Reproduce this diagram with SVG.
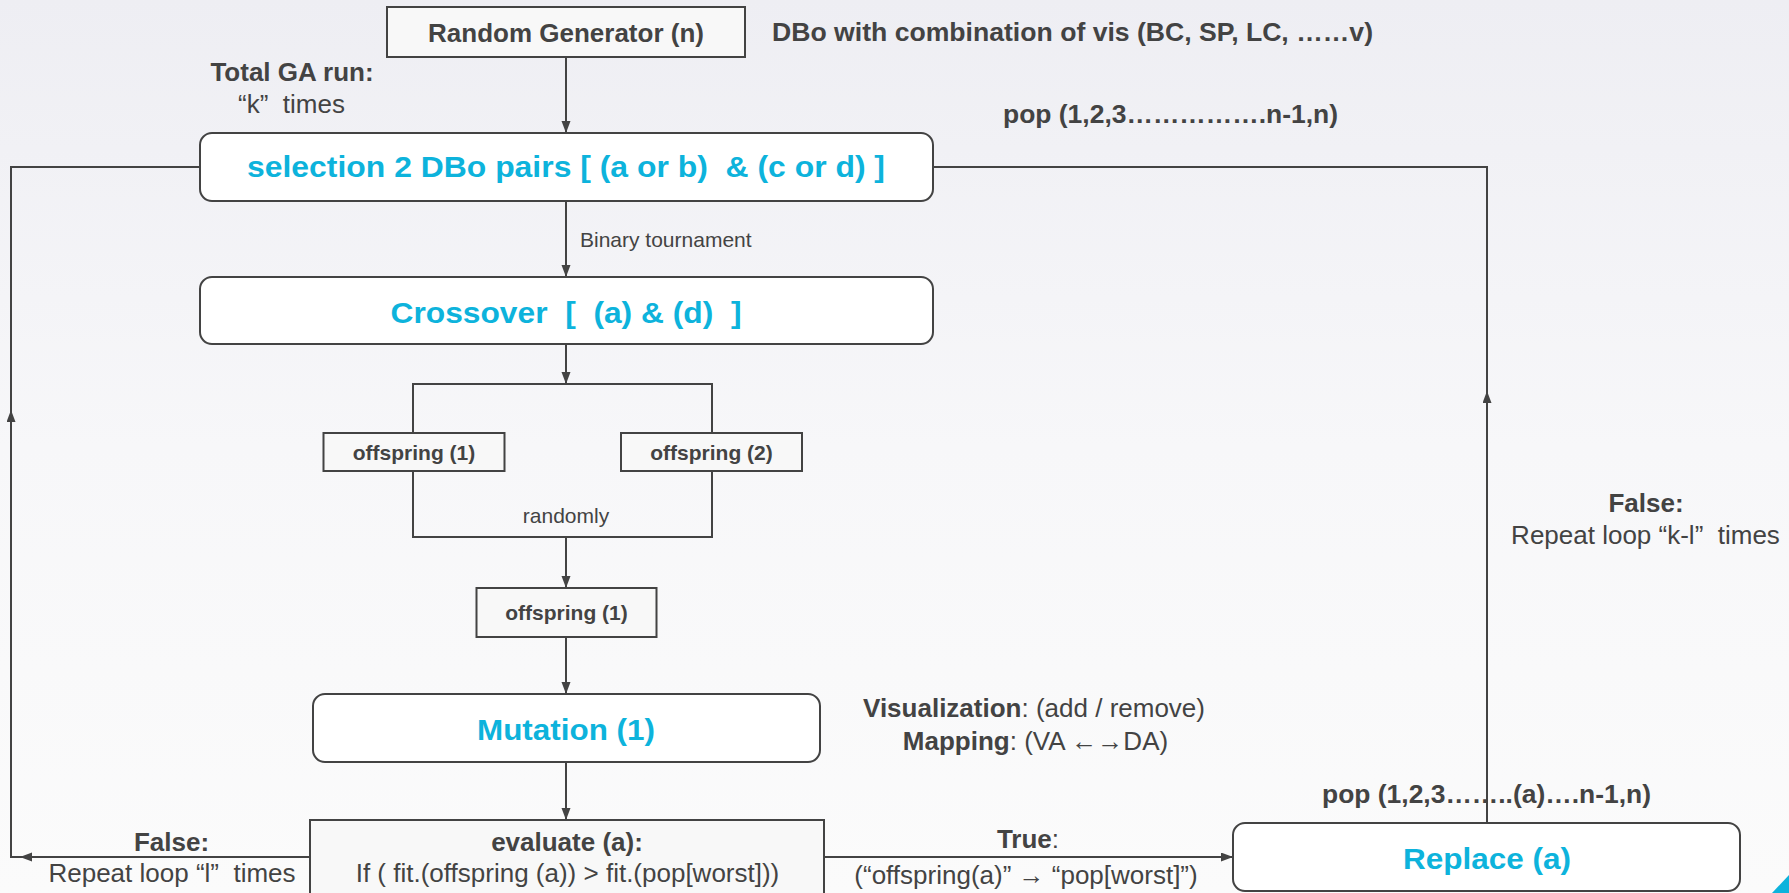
<svg xmlns="http://www.w3.org/2000/svg" width="1789" height="893" viewBox="0 0 1789 893">
<style>
text{font-family:"Liberation Sans",Arial,Helvetica,sans-serif;fill:#434343}
.b{font-weight:bold}
.t26{font-size:26px}
.t21{font-size:21px}
.title{font-size:29px;font-weight:bold;fill:#0db3dc}
.m{text-anchor:middle}
.box{fill:#f8f8f8;stroke:#434343;stroke-width:2}
.rbox{fill:#ffffff;stroke:#434343;stroke-width:2}
.ln{fill:none;stroke:#434343;stroke-width:2}
.arr{fill:none;stroke:#434343;stroke-width:2;marker-end:url(#ah)}
</style>
<defs>
<linearGradient id="bg" x1="0" y1="0" x2="0" y2="1">
<stop offset="0" stop-color="#eeeef3"/>
<stop offset="0.5" stop-color="#f7f7f9"/>
<stop offset="1" stop-color="#fbfbfb"/>
</linearGradient>
<marker id="ah" markerUnits="userSpaceOnUse" markerWidth="14" markerHeight="10" refX="12" refY="4.5" orient="auto">
<path d="M0,0 L12,4.5 L0,9 z" fill="#434343"/>
</marker>
</defs>
<rect x="0" y="0" width="1789" height="893" fill="url(#bg)"/>

<g id="connectors">
<path class="arr" d="M566 57 V133"/>
<path class="arr" d="M566 201 V277"/>
<path class="arr" d="M566 344 V384"/>
<path class="ln" d="M413 433 V384 H712 V433"/>
<path class="ln" d="M413 471 V537 H712 V471"/>
<path class="arr" d="M566 537 V588"/>
<path class="arr" d="M566 637 V694"/>
<path class="arr" d="M566 762 V820"/>
<path class="arr" d="M824 857 H1233"/>
<path class="arr" d="M310 857 H20"/>
<path class="ln" d="M20 857 H11 V420"/>
<path class="arr" d="M11 424 V410"/>
<path class="ln" d="M11 412 V167 H200"/>
<path class="arr" d="M1487 823 V391"/>
<path class="ln" d="M1487 393 V167 H933"/>
</g>

<g id="node-random-generator">
<rect class="box" x="387" y="7" width="358" height="50"/>
<text class="t26 b m" x="566" y="42">Random Generator (n)</text>
</g>

<g id="node-selection">
<rect class="rbox" x="200" y="133" width="733" height="68" rx="12"/>
<text class="title m" x="566" y="177" textLength="638" lengthAdjust="spacingAndGlyphs" xml:space="preserve">selection 2 DBo pairs [ (a or b)  &amp; (c or d) ]</text>
</g>

<g id="node-crossover">
<rect class="rbox" x="200" y="277" width="733" height="67" rx="12"/>
<text class="title m" x="566" y="323" textLength="351" lengthAdjust="spacingAndGlyphs" xml:space="preserve">Crossover  [  (a) &amp; (d)  ]</text>
</g>

<g id="node-offspring-1">
<rect class="box" x="323.5" y="433" width="181" height="38"/>
<text class="t21 b m" x="414" y="460">offspring (1)</text>
</g>

<g id="node-offspring-2">
<rect class="box" x="621" y="433" width="181" height="38"/>
<text class="t21 b m" x="711.5" y="460">offspring (2)</text>
</g>

<g id="node-offspring-selected">
<rect class="box" x="476.5" y="588" width="180" height="49"/>
<text class="t21 b m" x="566.5" y="620">offspring (1)</text>
</g>

<g id="node-mutation">
<rect class="rbox" x="313" y="694" width="507" height="68" rx="12"/>
<text class="title m" x="566" y="740" textLength="178" lengthAdjust="spacingAndGlyphs">Mutation (1)</text>
</g>

<g id="node-evaluate">
<rect class="box" x="310" y="820" width="514" height="80"/>
<text class="t26 b m" x="567" y="851">evaluate (a):</text>
<text class="t26 m" x="567.5" y="882">If ( fit.(offspring (a)) &gt; fit.(pop[worst]))</text>
</g>

<g id="node-replace">
<rect class="rbox" x="1233" y="823" width="507" height="68" rx="12"/>
<text class="title m" x="1487" y="869" textLength="168" lengthAdjust="spacingAndGlyphs">Replace (a)</text>
</g>

<g id="labels">
<text class="t26 b" x="772" y="40.5" textLength="601" lengthAdjust="spacingAndGlyphs">DBo with combination of vis (BC, SP, LC, ……v)</text>
<text class="t26 b m" x="292" y="81">Total GA run:</text>
<text class="t26 m" x="291.5" y="113" xml:space="preserve">“k”  times</text>
<text class="t26 b" x="1003" y="123" textLength="335" lengthAdjust="spacingAndGlyphs">pop (1,2,3…………….n-1,n)</text>
<text class="t21" x="580" y="247">Binary tournament</text>
<text class="t21 m" x="566" y="523">randomly</text>
<text class="t26 m" x="1034" y="717"><tspan class="b">Visualization</tspan>: (add / remove)</text>
<text class="t26 m" x="1035.5" y="750"><tspan class="b">Mapping</tspan>: (VA ←→DA)</text>
<text class="t26 m" x="1028" y="848"><tspan class="b">True</tspan>:</text>
<text class="t26 m" x="1026" y="884">(“offspring(a)” → “pop[worst]”)</text>
<text class="t26 b" x="1322" y="803" textLength="329" lengthAdjust="spacingAndGlyphs">pop (1,2,3……..(a)….n-1,n)</text>
<text class="t26 b m" x="1646" y="512">False:</text>
<text class="t26 m" x="1645.5" y="544" xml:space="preserve">Repeat loop “k-l”  times</text>
<text class="t26 b m" x="171.5" y="851">False:</text>
<text class="t26 m" x="172" y="882" xml:space="preserve">Repeat loop “l”  times</text>
</g>

<polygon points="1772,893 1789,875 1789,893" fill="#0db3dc"/>
</svg>
